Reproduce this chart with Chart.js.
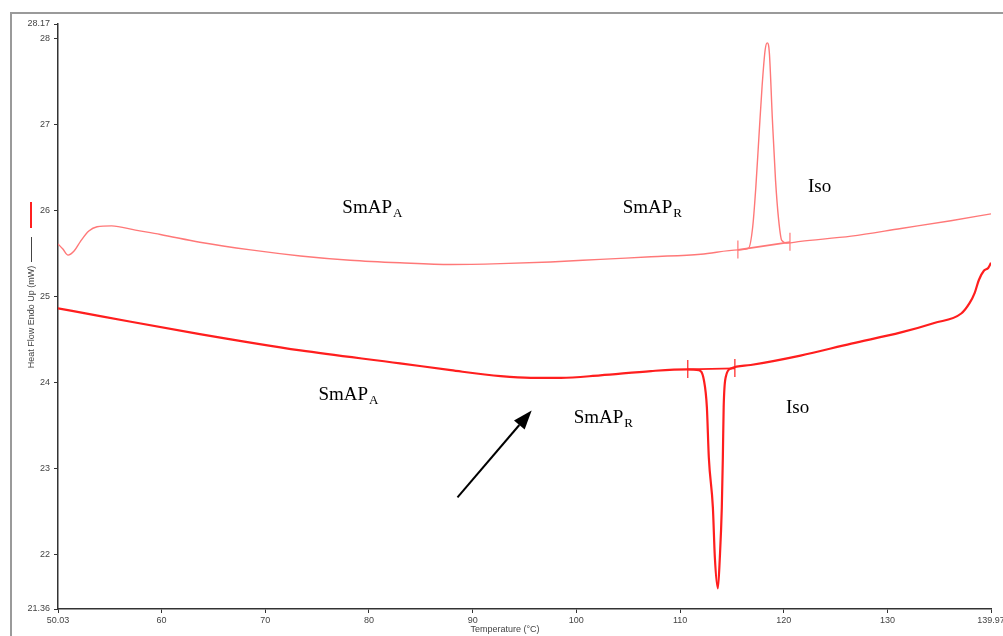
<!DOCTYPE html>
<html>
<head>
<meta charset="utf-8">
<script src="https://cdn.jsdelivr.net/npm/chart.js@4"></script>
<style>
  html, body { margin: 0; padding: 0; background: #fff; }
  canvas { display: block; }
</style>
</head>
<body>
<canvas id="dscChart" width="1003" height="636"></canvas>
<script>
// DSC traces: heating (upper, endo peak) and cooling (lower, exo dip)
const upperTemp = [50.03, 50.5, 51.0, 51.6, 52.2, 53.0, 53.8, 55.2, 57.5, 59.9, 63.7, 68.6, 73.4, 78.2, 83.0, 87.9, 92.7, 97.5, 102.3, 107.2, 112.0, 115.6, 116.6, 117.0, 117.3, 117.6, 117.9, 118.2, 118.4, 118.6, 118.9, 119.2, 119.5, 119.8, 120.3, 121.6, 126.5, 131.3, 136.1, 139.97];
const upperFlow = [25.61, 25.55, 25.48, 25.53, 25.64, 25.76, 25.81, 25.82, 25.77, 25.72, 25.63, 25.54, 25.47, 25.42, 25.39, 25.37, 25.38, 25.40, 25.43, 25.46, 25.49, 25.54, 25.56, 25.81, 26.27, 26.86, 27.44, 27.87, 27.95, 27.84, 27.05, 26.35, 25.89, 25.65, 25.62, 25.64, 25.70, 25.79, 25.88, 25.96];

const lowerTemp = [50.03, 54.1, 63.7, 73.4, 83.0, 87.9, 92.7, 95.6, 98.5, 102.3, 107.2, 110.7, 111.8, 112.3, 112.58, 112.77, 113.16, 113.35, 113.64, 113.83, 114.02, 114.12, 114.2, 114.4, 114.9, 116.8, 121.6, 126.5, 131.3, 134.5, 137.1, 137.9, 138.4, 138.8, 139.3, 139.7, 139.97];
const lowerFlow = [24.86, 24.77, 24.56, 24.37, 24.22, 24.14, 24.07, 24.05, 24.05, 24.08, 24.13, 24.15, 24.14, 24.02, 23.71, 23.12, 22.54, 21.96, 21.60, 21.96, 22.54, 23.12, 23.71, 24.06, 24.16, 24.20, 24.31, 24.45, 24.58, 24.69, 24.80, 24.92, 25.04, 25.19, 25.30, 25.33, 25.39];

// peak limits (onset / end) and their baseline values
const upperMarkTemp = [115.57, 120.59];
const upperMarkBase = [25.54, 25.63];
const lowerMarkTemp = [110.74, 115.28];
const lowerMarkBase = [24.15, 24.16];

const xTicks = [50.03, 60, 70, 80, 90, 100, 110, 120, 130, 139.97];
const yTicks = [21.36, 22, 23, 24, 25, 26, 27, 28, 28.17];

const phaseLabels = [
  { text: "SmAP", sub: "A", x: 77.44, y: 25.97 },
  { text: "SmAP", sub: "R", x: 104.47, y: 25.97 },
  { text: "Iso", sub: "", x: 122.33, y: 26.21 },
  { text: "SmAP", sub: "A", x: 75.13, y: 23.79 },
  { text: "SmAP", sub: "R", x: 99.74, y: 23.52 },
  { text: "Iso", sub: "", x: 120.2, y: 23.64 }
];
const arrowFrom = { x: 88.54, y: 22.66 };
const arrowTo = { x: 95.69, y: 23.67 };

const toPoints = (xs, ys) => xs.map((x, i) => ({ x: x, y: ys[i] }));

function markSets(temps, bases, color, width) {
  const sets = temps.map((t, i) => ({
    data: [{ x: t, y: bases[i] - 0.1 }, { x: t, y: bases[i] + 0.11 }],
    borderColor: color, borderWidth: width, tension: 0
  }));
  sets.push({
    data: toPoints(temps, bases),
    borderColor: color, borderWidth: width + 0.6, tension: 0
  });
  return sets;
}

const decorPlugin = {
  id: "decor",
  beforeDraw(chart) {
    const c = chart.ctx;
    c.save();
    c.strokeStyle = "#9a9a9a";
    c.lineWidth = 2;
    c.strokeRect(11, 13, 1100, 700);
    c.restore();
  },
  afterDraw(chart) {
    const c = chart.ctx;
    const xs = chart.scales.x, ys = chart.scales.y;
    c.save();
    // y-axis legend marks
    c.strokeStyle = "#ff2020"; c.lineWidth = 2;
    c.beginPath(); c.moveTo(31, 202); c.lineTo(31, 228); c.stroke();
    c.strokeStyle = "#444"; c.lineWidth = 1;
    c.beginPath(); c.moveTo(31.5, 237); c.lineTo(31.5, 262); c.stroke();
    // axis titles
    c.fillStyle = "#444";
    c.font = "9px 'Liberation Sans', Arial, sans-serif";
    c.textAlign = "center"; c.textBaseline = "middle";
    c.fillText("Temperature (°C)", 505, 630);
    c.translate(32, 317); c.rotate(-Math.PI / 2);
    c.fillText("Heat Flow Endo Up (mW)", 0, 0);
    c.setTransform(1, 0, 0, 1, 0, 0);
    // phase labels
    c.fillStyle = "#000";
    c.textAlign = "left"; c.textBaseline = "alphabetic";
    phaseLabels.forEach(l => {
      const px = xs.getPixelForValue(l.x), py = ys.getPixelForValue(l.y);
      c.font = "19px 'Liberation Serif', 'Times New Roman', serif";
      c.fillText(l.text, px, py);
      if (l.sub) {
        const w = c.measureText(l.text).width;
        c.font = "13px 'Liberation Serif', 'Times New Roman', serif";
        c.fillText(l.sub, px + w + 1, py + 4);
      }
    });
    // arrow
    const x1 = xs.getPixelForValue(arrowFrom.x), y1 = ys.getPixelForValue(arrowFrom.y);
    const x2 = xs.getPixelForValue(arrowTo.x), y2 = ys.getPixelForValue(arrowTo.y);
    const ang = Math.atan2(y2 - y1, x2 - x1);
    const hl = 19, hw = 7;
    const bx = x2 - hl * Math.cos(ang), by = y2 - hl * Math.sin(ang);
    c.strokeStyle = "#000"; c.lineWidth = 2;
    c.beginPath(); c.moveTo(x1, y1); c.lineTo(bx, by); c.stroke();
    c.fillStyle = "#000";
    c.beginPath();
    c.moveTo(x2, y2);
    c.lineTo(bx + hw * Math.sin(ang), by - hw * Math.cos(ang));
    c.lineTo(bx - hw * Math.sin(ang), by + hw * Math.cos(ang));
    c.closePath(); c.fill();
    c.restore();
  }
};

const tickFont = { size: 9, family: "'Liberation Sans', Arial, sans-serif" };

new Chart(document.getElementById("dscChart"), {
  type: "scatter",
  data: {
    datasets: [
      {
        data: toPoints(upperTemp, upperFlow),
        borderColor: "#ff7878", borderWidth: 1.4,
        cubicInterpolationMode: "monotone"
      },
      {
        data: toPoints(lowerTemp, lowerFlow),
        borderColor: "#ff1e1e", borderWidth: 2.2,
        cubicInterpolationMode: "monotone"
      },
      ...markSets(upperMarkTemp, upperMarkBase, "#ff7878", 1.2),
      ...markSets(lowerMarkTemp, lowerMarkBase, "#ff1e1e", 1.2)
    ]
  },
  options: {
    responsive: false,
    animation: false,
    showLine: true,
    elements: { point: { radius: 0, hoverRadius: 0 } },
    layout: { padding: { top: 24, right: 12, left: 0, bottom: 0 } },
    plugins: { legend: { display: false }, tooltip: { enabled: false } },
    scales: {
      x: {
        type: "linear", min: 50.03, max: 139.97,
        afterBuildTicks: axis => { axis.ticks = xTicks.map(v => ({ value: v })); },
        afterFit: axis => { axis.height = 27; axis.paddingRight = 0; axis.paddingLeft = 0; },
        ticks: { font: tickFont, color: "#444", padding: 2, autoSkip: false, maxRotation: 0,
                 callback: v => String(v) },
        grid: { drawOnChartArea: false, tickLength: 4, color: "#333" },
        border: { color: "#333", width: 1.5 }
      },
      y: {
        type: "linear", min: 21.36, max: 28.17,
        afterBuildTicks: axis => { axis.ticks = yTicks.map(v => ({ value: v })); },
        afterFit: axis => { axis.width = 58; axis.paddingTop = 0; axis.paddingBottom = 0; },
        ticks: { font: tickFont, color: "#444", padding: 4, autoSkip: false,
                 callback: v => String(v) },
        grid: { drawOnChartArea: false, tickLength: 4, color: "#333" },
        border: { color: "#333", width: 1.5 }
      }
    }
  },
  plugins: [decorPlugin]
});
</script>
</body>
</html>
